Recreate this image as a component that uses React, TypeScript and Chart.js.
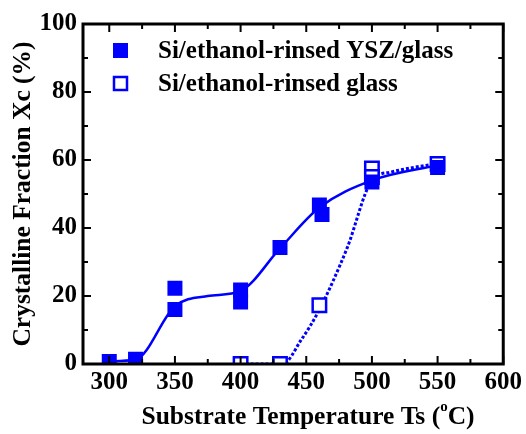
import React, { useEffect, useRef } from 'react';
import { Chart, registerables } from 'chart.js';
Chart.register(...registerables);

const BLUE = '#0000ff';
const FONT = '"Liberation Serif", "Times New Roman", serif';

// measured points
const yszX = [300, 320, 350, 350, 400, 400, 430, 460, 462, 500, 550];
const yszY = [0.7, 1.4, 22.3, 16, 21.8, 18.2, 34.3, 46.8, 44, 53.5, 57.8];
const glassX = [400, 430, 460, 500, 500, 550];
const glassY = [0, 0, 17.3, 57.5, 55, 58.8];
// guide curves
const yszFitX = [300, 320, 350, 375, 400, 430, 460, 500, 550];
const yszFitY = [0.8, 1.3, 17, 20, 21.5, 34, 46, 54, 58.5];
const glassFitX = [400, 432, 446, 460, 481, 500, 515, 550];
const glassFitY = [0, 0, 7, 16, 34, 54, 56.5, 59];

const xTicks = [300, 350, 400, 450, 500, 550, 600];
const xMinor = [325, 375, 425, 475, 525, 575];
const yTicks = [0, 20, 40, 60, 80, 100];
const yMinor = [10, 30, 50, 70, 90];
const legendLabels = ['Si/ethanol-rinsed YSZ/glass', 'Si/ethanol-rinsed glass'];
const yTitle = 'Crystalline Fraction Xc (%)';
const xTitleMain = 'Substrate Temperature Ts (';
const xTitleSup = 'o';
const xTitleEnd = 'C)';

const zip = (xs: number[], ys: number[]) => xs.map((x, i) => ({ x, y: ys[i] }));

const framePlugin = {
  id: 'frame',
  afterDraw(chart: any) {
    const { ctx, chartArea: a, scales } = chart;
    const xs = scales.x, ys = scales.y;
    ctx.save();
    ctx.strokeStyle = '#000';
    ctx.lineWidth = 2;
    const drawX = (vals: number[], len: number) => {
      vals.forEach((v) => {
        const px = xs.getPixelForValue(v);
        ctx.beginPath();
        ctx.moveTo(px, a.bottom);
        ctx.lineTo(px, a.bottom - len);
        ctx.moveTo(px, a.top);
        ctx.lineTo(px, a.top + len);
        ctx.stroke();
      });
    };
    const drawY = (vals: number[], len: number) => {
      vals.forEach((v) => {
        const py = ys.getPixelForValue(v);
        ctx.beginPath();
        ctx.moveTo(a.left, py);
        ctx.lineTo(a.left + len, py);
        ctx.moveTo(a.right, py);
        ctx.lineTo(a.right - len, py);
        ctx.stroke();
      });
    };
    drawX(xTicks, 8);
    drawX(xMinor, 5);
    drawY(yTicks, 8);
    drawY(yMinor, 5);
    ctx.lineWidth = 3;
    ctx.strokeRect(a.left, a.top, a.right - a.left, a.bottom - a.top);

    // legend
    ctx.fillStyle = BLUE;
    ctx.fillRect(113, 43, 15, 15);
    ctx.strokeStyle = BLUE;
    ctx.lineWidth = 2.5;
    ctx.fillStyle = '#fff';
    ctx.fillRect(114, 77, 13, 13);
    ctx.strokeRect(114, 77, 13, 13);
    ctx.fillStyle = '#000';
    ctx.font = `bold 25px ${FONT}`;
    ctx.textBaseline = 'middle';
    ctx.textAlign = 'left';
    ctx.fillText(legendLabels[0], 158, 52);
    ctx.fillText(legendLabels[1], 158, 85);

    // y title
    ctx.save();
    ctx.font = `bold 25.5px ${FONT}`;
    ctx.translate(23, (a.top + a.bottom) / 2);
    ctx.rotate(-Math.PI / 2);
    ctx.textAlign = 'center';
    ctx.fillText(yTitle, 0, 0);
    ctx.restore();

    // x title
    ctx.font = `bold 25.5px ${FONT}`;
    const w1 = ctx.measureText(xTitleMain).width;
    ctx.font = `bold 15px ${FONT}`;
    const w2 = ctx.measureText(xTitleSup).width;
    ctx.font = `bold 25.5px ${FONT}`;
    const w3 = ctx.measureText(xTitleEnd).width;
    const total = w1 + w2 + w3;
    const x0 = 308 - total / 2;
    ctx.textBaseline = 'alphabetic';
    ctx.fillText(xTitleMain, x0, 424);
    ctx.font = `bold 15px ${FONT}`;
    ctx.fillText(xTitleSup, x0 + w1, 411);
    ctx.font = `bold 25.5px ${FONT}`;
    ctx.fillText(xTitleEnd, x0 + w1 + w2, 424);
    ctx.restore();
  },
};

export default function App() {
  const ref = useRef<HTMLCanvasElement>(null);
  useEffect(() => {
    document.body.style.margin = '0';
    const chart = new Chart(ref.current!, {
      type: 'scatter',
      data: {
        datasets: [
          {
            type: 'line',
            data: zip(yszFitX, yszFitY),
            borderColor: BLUE,
            borderWidth: 2.5,
            pointRadius: 0,
            cubicInterpolationMode: 'monotone',
            showLine: true,
            fill: false,
            order: 4,
          } as any,
          {
            type: 'line',
            data: zip(glassFitX, glassFitY),
            borderColor: BLUE,
            borderWidth: 3,
            borderDash: [3, 2],
            pointRadius: 0,
            cubicInterpolationMode: 'monotone',
            showLine: true,
            fill: false,
            order: 3,
          } as any,
          {
            data: zip(glassX, glassY),
            pointStyle: 'rect',
            pointRadius: 9.5,
            pointBackgroundColor: '#fff',
            pointBorderColor: BLUE,
            pointBorderWidth: 2.5,
            order: 2,
          },
          {
            data: zip(yszX, yszY),
            pointStyle: 'rect',
            pointRadius: 10.6,
            pointBackgroundColor: BLUE,
            pointBorderColor: BLUE,
            pointBorderWidth: 0,
            order: 1,
          },
        ],
      },
      options: {
        responsive: false,
        animation: false,
        layout: { padding: { left: 0, right: 22, top: 24, bottom: 0 } },
        plugins: { legend: { display: false }, tooltip: { enabled: false } },
        scales: {
          x: {
            type: 'linear',
            min: 280,
            max: 600,
            afterBuildTicks: (s: any) => { s.ticks = xTicks.map((v) => ({ value: v })); },
            afterFit: (s: any) => { s.height = 70; },
            grid: { display: false, drawTicks: false },
            border: { display: false },
            ticks: { color: '#000', padding: 4, maxRotation: 0, font: { family: FONT, size: 25, weight: 'bold' } },
          },
          y: {
            type: 'linear',
            min: 0,
            max: 100,
            afterBuildTicks: (s: any) => { s.ticks = yTicks.map((v) => ({ value: v })); },
            afterFit: (s: any) => { s.width = 83; },
            grid: { display: false, drawTicks: false },
            border: { display: false },
            ticks: { color: '#000', padding: 6, font: { family: FONT, size: 25, weight: 'bold' } },
          },
        },
      },
      plugins: [framePlugin],
    });
    return () => chart.destroy();
  }, []);
  return (
    <div style={{ width: 526, height: 434 }}>
      <canvas ref={ref} width={526} height={434} />
    </div>
  );
}
